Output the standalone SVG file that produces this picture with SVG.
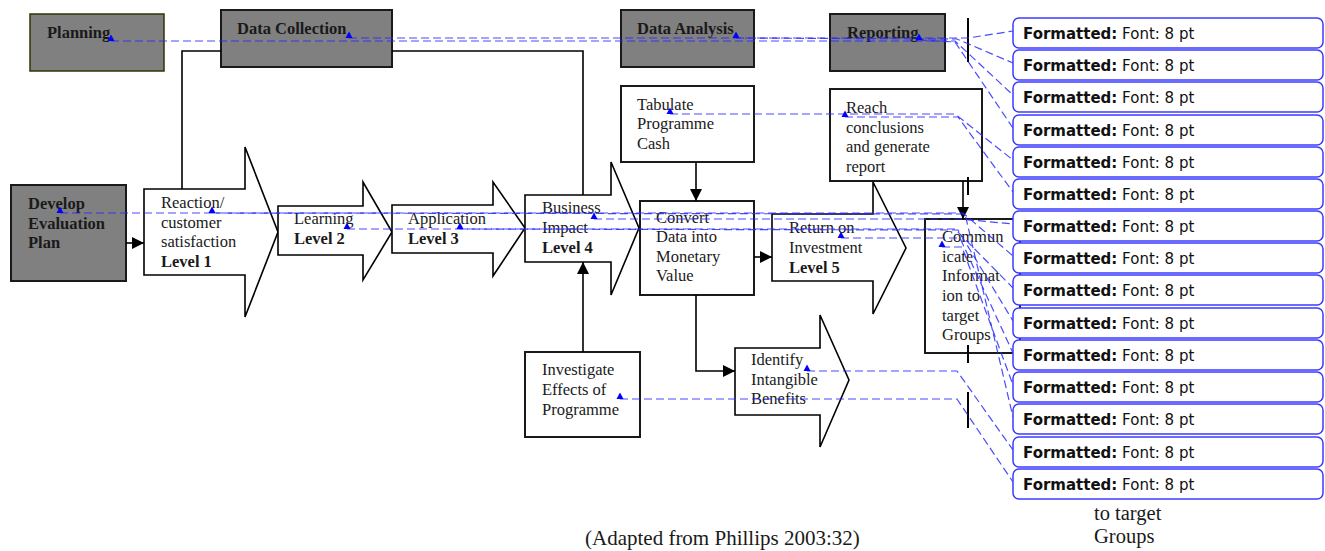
<svg xmlns="http://www.w3.org/2000/svg" width="1325" height="551" viewBox="0 0 1325 551">
<style>
.t{font-family:"Liberation Serif","Times New Roman",serif;font-size:16.5px;fill:#1a1a1a}
.b{font-weight:bold}
.gray{fill:#808080;stroke:#1a1a1a;stroke-width:2}
.box{fill:#fff;stroke:#1a1a1a;stroke-width:2}
.arr{fill:#fff;stroke:#000;stroke-width:1.6}
.con{fill:none;stroke:#000;stroke-width:1.6}
.dash{fill:none;stroke:#2a2aff;stroke-width:1.2;stroke-dasharray:8 4;stroke-opacity:0.85}
.bal{fill:#fff;stroke:#3b3bff;stroke-width:1.5}
.bt{font-family:"DejaVu Sans",Verdana,sans-serif;font-size:15px;fill:#111}
.bar{stroke:#000;stroke-width:2}
.mk{fill:#0000ff}
</style>
<defs>
<marker id="ah" markerWidth="12" markerHeight="12" refX="12" refY="6" orient="auto" markerUnits="userSpaceOnUse">
<path d="M0,0 L12,6 L0,12 z" fill="#000"/>
</marker>
<path id="tri" d="M-3.5,0 L3.5,0 L0,-6.5 z"/>
</defs>

<g id="planning"><rect class="gray" x="30" y="14" width="134" height="57" style="stroke:#333300;stroke-width:1.5"/><text class="t b" x="47" y="38">Planning</text></g>
<g id="data-collection"><rect class="gray" x="221" y="10" width="171" height="57"/><text class="t b" x="237" y="34">Data Collection</text></g>
<g id="data-analysis"><rect class="gray" x="621" y="10" width="133" height="57"/><text class="t b" x="637" y="34">Data Analysis</text></g>
<g id="reporting"><rect class="gray" x="830" y="14" width="115" height="57"/><text class="t b" x="847" y="38">Reporting</text></g>
<g id="develop"><rect class="gray" x="11" y="185" width="115" height="96"/><text class="t b" x="28" y="209">Develop</text><text class="t b" x="28" y="229">Evaluation</text><text class="t b" x="28" y="248">Plan</text></g>

<g id="reaction"><polygon class="arr" points="144,189 245,189 245,147 278,232 245,317 245,275 144,275"/><text class="t" x="161" y="208">Reaction/</text><text class="t" x="161" y="228">customer</text><text class="t" x="161" y="247">satisfaction</text><text class="t b" x="161" y="267">Level 1</text></g>
<g id="learning"><polygon class="arr" points="278,206 363,206 363,182 392,232 363,280 363,255 278,255"/><text class="t" x="294" y="224">Learning</text><text class="t b" x="294" y="244">Level 2</text></g>
<g id="application"><polygon class="arr" points="392,205 493,205 493,182 525,228 493,276 493,253 392,253"/><text class="t" x="408" y="224">Application</text><text class="t b" x="408" y="244">Level 3</text></g>
<g id="business-impact"><polygon class="arr" points="525,195 611,195 611,162 639,228 611,295 611,262 525,262"/><text class="t" x="542" y="213">Business</text><text class="t" x="542" y="233">Impact</text><text class="t b" x="542" y="253">Level 4</text></g>
<g id="tabulate"><rect class="box" x="621" y="86" width="133" height="76"/><text class="t" x="637" y="110">Tabulate</text><text class="t" x="637" y="129">Programme</text><text class="t" x="637" y="149">Cash</text></g>
<g id="convert"><rect class="box" x="640" y="201" width="114" height="94"/><text class="t" x="656" y="223">Convert</text><text class="t" x="656" y="242">Data into</text><text class="t" x="656" y="262">Monetary</text><text class="t" x="656" y="281">Value</text></g>
<g id="reach"><rect class="box" x="830" y="89" width="152" height="92"/><text class="t" x="846" y="113">Reach</text><text class="t" x="846" y="133">conclusions</text><text class="t" x="846" y="152">and generate</text><text class="t" x="846" y="172">report</text></g>
<g id="return"><polygon class="arr" points="772,214 873,214 873,182 906,248 873,314 873,281 772,281"/><text class="t" x="789" y="233">Return on</text><text class="t" x="789" y="253">Investment</text><text class="t b" x="789" y="273">Level 5</text></g>
<g id="communicate"><rect class="box" x="925" y="219" width="95" height="134"/><text class="t" x="942" y="242">Commun</text><text class="t" x="942" y="262">icate</text><text class="t" x="942" y="281">Informat</text><text class="t" x="942" y="301">ion to</text><text class="t" x="942" y="321">target</text><text class="t" x="942" y="340">Groups</text></g>
<g id="investigate"><rect class="box" x="525" y="352" width="115" height="85"/><text class="t" x="542" y="375">Investigate</text><text class="t" x="542" y="395">Effects of</text><text class="t" x="542" y="415">Programme</text></g>
<g id="identify"><polygon class="arr" points="735,348 820,348 820,315 849,380 820,447 820,415 735,415"/><text class="t" x="751" y="365">Identify</text><text class="t" x="751" y="385">Intangible</text><text class="t" x="751" y="404">Benefits</text></g>

<g id="connectors">
<polyline class="con" points="221,51 182,51 182,189"/>
<polyline class="con" points="392,51 583,51 583,195"/>
<line class="con" x1="126" y1="243" x2="144" y2="243" marker-end="url(#ah)"/>
<line class="con" x1="696" y1="162" x2="696" y2="201" marker-end="url(#ah)"/>
<line class="con" x1="754" y1="257" x2="772" y2="257" marker-end="url(#ah)"/>
<line class="con" x1="583" y1="352" x2="583" y2="262" marker-end="url(#ah)"/>
<polyline class="con" points="696,295 696,371 735,371" marker-end="url(#ah)"/>
<line class="con" x1="963" y1="181" x2="963" y2="219" marker-end="url(#ah)"/>
</g>

<g id="ghost-text"><text class="t" style="font-size:20.5px" x="1094" y="520">to target</text><text class="t" style="font-size:20.5px" x="1094" y="543">Groups</text></g>
<text class="t" style="font-size:21px" x="585" y="545">(Adapted from Phillips 2003:32)</text>

<g id="comment-bars">
<line class="bar" x1="968" y1="18" x2="968" y2="62"/>
<line class="bar" x1="968" y1="177" x2="968" y2="195"/>
<line class="bar" x1="968" y1="345" x2="968" y2="363"/>
<line class="bar" x1="968" y1="392" x2="968" y2="428"/>
</g>

<g id="comment-lines">
<polyline class="dash" points="349,38 968,38 1013,31"/>
<polyline class="dash" points="736,38 957,39 1013,63"/>
<polyline class="dash" points="111,41 955,41 1013,95"/>
<polyline class="dash" points="919,40 955,42 1013,128"/>
<polyline class="dash" points="670,114 955,114 1013,160"/>
<polyline class="dash" points="845,117 958,117 1013,192"/>
<polyline class="dash" points="594,219 960,219 1013,224"/>
<polyline class="dash" points="60,213 963,213 1013,256"/>
<polyline class="dash" points="347,229 955,229 1013,288"/>
<polyline class="dash" points="460,229 958,230 1013,321"/>
<polyline class="dash" points="841,238 960,238 1013,353"/>
<polyline class="dash" points="942,247 962,247 1013,385"/>
<polyline class="dash" points="212,213 965,214 1013,417"/>
<polyline class="dash" points="807,371 957,371 1013,450"/>
<polyline class="dash" points="620,399 957,399 1013,482"/>
</g>

<g id="comment-anchors">
<use href="#tri" class="mk" x="111" y="41"/>
<use href="#tri" class="mk" x="349" y="38"/>
<use href="#tri" class="mk" x="736" y="38"/>
<use href="#tri" class="mk" x="919" y="40"/>
<use href="#tri" class="mk" x="670" y="114"/>
<use href="#tri" class="mk" x="845" y="117"/>
<use href="#tri" class="mk" x="60" y="213"/>
<use href="#tri" class="mk" x="212" y="213"/>
<use href="#tri" class="mk" x="347" y="229"/>
<use href="#tri" class="mk" x="460" y="229"/>
<use href="#tri" class="mk" x="594" y="219"/>
<use href="#tri" class="mk" x="841" y="238"/>
<use href="#tri" class="mk" x="942" y="247"/>
<use href="#tri" class="mk" x="807" y="371"/>
<use href="#tri" class="mk" x="620" y="399"/>
</g>

<g id="balloons">
<g id="balloon-1"><rect class="bal" x="1013" y="18" width="310" height="30" rx="6"/><text class="bt" x="1023" y="39"><tspan font-weight="bold">Formatted:</tspan> Font: 8 pt</text></g>
<g id="balloon-2"><rect class="bal" x="1013" y="50" width="310" height="30" rx="6"/><text class="bt" x="1023" y="71"><tspan font-weight="bold">Formatted:</tspan> Font: 8 pt</text></g>
<g id="balloon-3"><rect class="bal" x="1013" y="82" width="310" height="30" rx="6"/><text class="bt" x="1023" y="103"><tspan font-weight="bold">Formatted:</tspan> Font: 8 pt</text></g>
<g id="balloon-4"><rect class="bal" x="1013" y="115" width="310" height="30" rx="6"/><text class="bt" x="1023" y="136"><tspan font-weight="bold">Formatted:</tspan> Font: 8 pt</text></g>
<g id="balloon-5"><rect class="bal" x="1013" y="147" width="310" height="30" rx="6"/><text class="bt" x="1023" y="168"><tspan font-weight="bold">Formatted:</tspan> Font: 8 pt</text></g>
<g id="balloon-6"><rect class="bal" x="1013" y="179" width="310" height="30" rx="6"/><text class="bt" x="1023" y="200"><tspan font-weight="bold">Formatted:</tspan> Font: 8 pt</text></g>
<g id="balloon-7"><rect class="bal" x="1013" y="211" width="310" height="30" rx="6"/><text class="bt" x="1023" y="232"><tspan font-weight="bold">Formatted:</tspan> Font: 8 pt</text></g>
<g id="balloon-8"><rect class="bal" x="1013" y="243" width="310" height="30" rx="6"/><text class="bt" x="1023" y="264"><tspan font-weight="bold">Formatted:</tspan> Font: 8 pt</text></g>
<g id="balloon-9"><rect class="bal" x="1013" y="275" width="310" height="30" rx="6"/><text class="bt" x="1023" y="296"><tspan font-weight="bold">Formatted:</tspan> Font: 8 pt</text></g>
<g id="balloon-10"><rect class="bal" x="1013" y="308" width="310" height="30" rx="6"/><text class="bt" x="1023" y="329"><tspan font-weight="bold">Formatted:</tspan> Font: 8 pt</text></g>
<g id="balloon-11"><rect class="bal" x="1013" y="340" width="310" height="30" rx="6"/><text class="bt" x="1023" y="361"><tspan font-weight="bold">Formatted:</tspan> Font: 8 pt</text></g>
<g id="balloon-12"><rect class="bal" x="1013" y="372" width="310" height="30" rx="6"/><text class="bt" x="1023" y="393"><tspan font-weight="bold">Formatted:</tspan> Font: 8 pt</text></g>
<g id="balloon-13"><rect class="bal" x="1013" y="404" width="310" height="30" rx="6"/><text class="bt" x="1023" y="425"><tspan font-weight="bold">Formatted:</tspan> Font: 8 pt</text></g>
<g id="balloon-14"><rect class="bal" x="1013" y="437" width="310" height="30" rx="6"/><text class="bt" x="1023" y="458"><tspan font-weight="bold">Formatted:</tspan> Font: 8 pt</text></g>
<g id="balloon-15"><rect class="bal" x="1013" y="469" width="310" height="30" rx="6"/><text class="bt" x="1023" y="490"><tspan font-weight="bold">Formatted:</tspan> Font: 8 pt</text></g>
</g>
</svg>
